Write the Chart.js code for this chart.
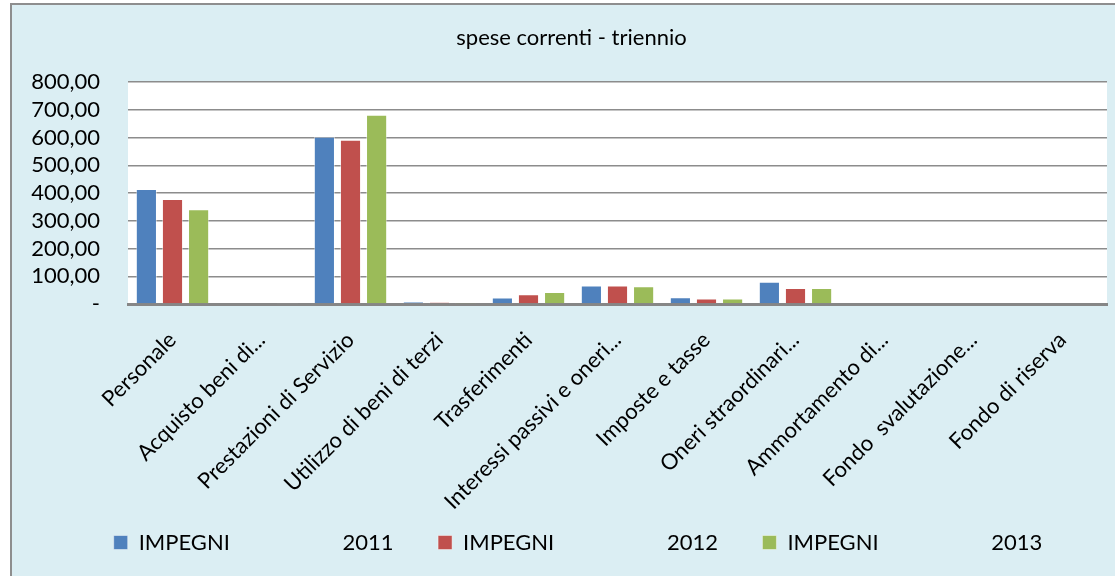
<!DOCTYPE html>
<html>
<head>
<meta charset="utf-8">
<script src="https://cdn.jsdelivr.net/npm/chart.js@4/dist/chart.umd.min.js"></script>
<style>
  html, body { margin: 0; padding: 0; background: #ffffff; }
  canvas { display: block; }
</style>
</head>
<body>
<canvas id="c" width="1115" height="576"></canvas>
<script>
const categories = [
  'Personale',
  'Acquisto beni di...',
  'Prestazioni di Servizio',
  'Utilizzo di beni di terzi',
  'Trasferimenti',
  'Interessi passivi e oneri...',
  'Imposte e tasse',
  'Oneri straordinari...',
  'Ammortamento di...',
  'Fondo  svalutazione...',
  'Fondo di riserva'
];
const seriesLabels = [
  'IMPEGNI                    2011',
  'IMPEGNI                    2012',
  'IMPEGNI                    2013'
];
const impegni2011 = [414, 3, 603, 8, 23, 67, 24, 80, 0, 0, 0];
const impegni2012 = [378, 3, 592, 6, 35, 67, 20, 58, 0, 0, 0];
const impegni2013 = [341, 2, 682, 4, 43, 64, 20, 58, 0, 0, 0];
const yTicksMax = 800;
const yTicksStep = 100;
const chartTitle = 'spese correnti - triennio';

const seriesColors = ['#4F81BD', '#C0504D', '#9BBB59'];
const FONT = 'Lato, "Open Sans", sans-serif';

const backgroundPlugin = {
  id: 'bg',
  afterLayout(chart) {
    // let axis labels overflow their boxes (as in the original), no clipping
    chart.scales.y.left = 0;
    chart.scales.x.bottom = chart.height;
    // nudge the legend row to sit where the original places it
    chart.legend.left += 6.5;
    chart.legend.right += 6.5;
  },
  beforeDraw(chart) {
    const ctx = chart.ctx;
    const W = chart.width, H = chart.height;
    ctx.save();
    ctx.fillStyle = '#ffffff';
    ctx.fillRect(0, 0, W, H);
    ctx.fillStyle = '#DBEEF3';
    ctx.fillRect(10, 3, W - 10, H - 3);
    ctx.fillStyle = '#8E8E8E';
    ctx.fillRect(10, 3, 2, H - 3);
    ctx.fillRect(10, 3, W - 10, 2);
    const a = chart.chartArea;
    ctx.fillStyle = '#ffffff';
    ctx.fillRect(a.left, a.top, a.right - a.left, a.bottom - a.top);
    ctx.restore();
  }
};

const data = {
  labels: categories,
  datasets: [impegni2011, impegni2012, impegni2013].map((vals, i) => ({
    label: seriesLabels[i],
    data: vals,
    backgroundColor: seriesColors[i],
    borderColor: 'rgba(255,255,255,0.45)',
    borderWidth: 1
  }))
};

new Chart(document.getElementById('c'), {
  type: 'bar',
  data: data,
  plugins: [backgroundPlugin],
  options: {
    responsive: false,
    devicePixelRatio: 1,
    animation: false,
    layout: { padding: { left: 36, right: 8, top: 0, bottom: 12.5 } },
    datasets: { bar: { categoryPercentage: 0.88, barPercentage: 0.81 } },
    plugins: {
      title: {
        display: true,
        text: chartTitle,
        color: '#000000',
        font: { family: FONT, size: 22, weight: 'normal' },
        padding: { top: 25, bottom: 30.6 }
      },
      legend: {
        position: 'bottom',
        labels: {
          color: '#000000',
          font: { family: FONT, size: 22 },
          boxWidth: 14,
          boxHeight: 14,
          padding: 44.5
        }
      },
      tooltip: { enabled: false }
    },
    scales: {
      x: {
        grid: { display: false },
        border: { display: true, color: '#868686', width: 3 },
        ticks: {
          color: '#000000',
          font: { family: FONT, size: 22 },
          maxRotation: 45,
          minRotation: 45,
          autoSkip: false,
          padding: 15
        },
        afterFit(scale) { scale.height = 183; }
      },
      y: {
        min: 0,
        max: yTicksMax,
        grid: { color: '#8C8C8C', lineWidth: 1.5, drawTicks: false },
        border: { display: false },
        ticks: {
          stepSize: yTicksStep,
          autoSkip: false,
          color: '#000000',
          font: { family: FONT, size: 22 },
          padding: 28,
          callback: (v) => v === 0 ? '-' : v.toFixed(2).replace('.', ',')
        },
        afterFit(scale) { scale.width = 92; }
      }
    }
  }
});
</script>
</body>
</html>
